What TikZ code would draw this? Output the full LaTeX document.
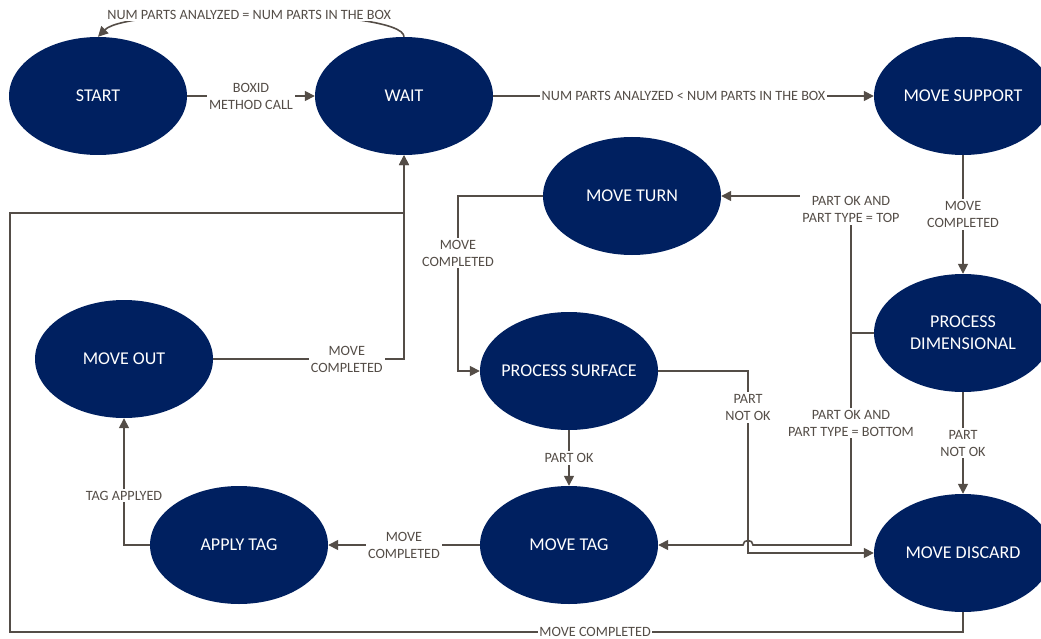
\documentclass[tikz,border=0pt]{standalone}
\usepackage{fontspec}
\setmainfont{Carlito}
\usetikzlibrary{shapes.geometric,arrows.meta}

\definecolor{StateBlue}{RGB}{0,32,96}
\definecolor{EdgeGray}{RGB}{84,77,71}

\tikzset{
  VertexStyle/.style = {ellipse, fill=StateBlue, text=white, align=center,
                        minimum width=178pt, minimum height=118pt,
                        inner sep=0pt, inner xsep=-15pt,
                        font=\fontsize{18}{22}\selectfont},
  EdgeStyle/.style   = {draw=EdgeGray, line width=1.6pt,
                        -{Triangle[length=10pt,width=10pt]}},
  LabelStyle/.style  = {fill=white, text=EdgeGray, align=center, inner sep=2pt,
                        font=\fontsize{14.2}{17}\selectfont}
}

\begin{document}
\begin{tikzpicture}[x=1pt, y=-1pt]
    \useasboundingbox (0,0) rectangle (1041,639);

    % Vertices
    \node[VertexStyle] (start)    at (98,96)   {START};
    \node[VertexStyle] (wait)     at (404,96)  {WAIT};
    \node[VertexStyle] (msupport) at (963,96)  {MOVE SUPPORT};
    \node[VertexStyle] (mturn)    at (632,196) {MOVE TURN};
    \node[VertexStyle] (pdim)     at (963,333) {PROCESS\\DIMENSIONAL};
    \node[VertexStyle] (mout)     at (124,359) {MOVE OUT};
    \node[VertexStyle] (psurf)    at (569,371) {PROCESS SURFACE};
    \node[VertexStyle] (mtag)     at (569,545) {MOVE TAG};
    \node[VertexStyle] (atag)     at (239,545) {APPLY TAG};
    \node[VertexStyle] (mdisc)    at (963,553) {MOVE DISCARD};

    % Junctions
    \coordinate (jdim)  at (851,333);
    \coordinate (jtop)  at (851,196);
    \coordinate (jbot)  at (851,545);
    \coordinate (jsurf) at (748,371);
    \coordinate (jdisc) at (748,553);
    \coordinate (jturn) at (458,196);
    \coordinate (jin)   at (458,371);
    \coordinate (jtag)  at (124,545);
    \coordinate (jout)  at (404,359);
    \coordinate (jdown) at (963,632);
    \coordinate (jlow)  at (10,632);
    \coordinate (jup)   at (10,213);
    \coordinate (jwait) at (404,213);

    % Edges
    \draw[EdgeStyle] (start) -- node[LabelStyle]{BOXID\\METHOD CALL} (wait);
    \draw[EdgeStyle] (wait.north) .. controls (404,8) and (128,6) .. (start.north)
        node[LabelStyle, pos=0.53]{NUM PARTS ANALYZED = NUM PARTS IN THE BOX};
    \draw[EdgeStyle] (wait) -- node[LabelStyle]{NUM PARTS ANALYZED < NUM PARTS IN THE BOX} (msupport);
    \draw[EdgeStyle] (msupport) -- node[LabelStyle]{MOVE\\COMPLETED} (pdim);
    \draw[EdgeStyle] (pdim) -- node[LabelStyle]{PART\\NOT OK} (mdisc);
    \draw[EdgeStyle] (pdim.west) -- (jdim) -- (jtop)
        node[LabelStyle, pos=0.9]{PART OK AND\\PART TYPE = TOP} -- (mturn.east);
    \draw[EdgeStyle] (jdim) -- (jbot)
        node[LabelStyle, pos=0.425]{PART OK AND\\PART TYPE = BOTTOM}
        -- (753,545) .. controls (753,539) and (743,539) .. (743,545) -- (mtag.east);
    \draw[EdgeStyle] (psurf.east) -- (jsurf) -- (jdisc)
        node[LabelStyle, pos=0.2]{PART\\NOT OK} -- (mdisc.west);
    \draw[EdgeStyle] (psurf) -- node[LabelStyle]{PART OK} (mtag);
    \draw[EdgeStyle] (mturn.west) -- (jturn) -- (jin)
        node[LabelStyle, pos=0.326]{MOVE\\COMPLETED} -- (psurf.west);
    \draw[EdgeStyle] (mtag) -- node[LabelStyle]{MOVE\\COMPLETED} (atag);
    \draw[EdgeStyle] (atag.west) -- (jtag) -- (mout.south)
        node[LabelStyle, pos=0.39]{TAG APPLYED};
    \draw[EdgeStyle] (mout.east) -- (jout)
        node[LabelStyle, pos=0.7]{MOVE\\COMPLETED} -- (wait.south);
    \draw[EdgeStyle] (mdisc.south) -- (jdown) -- (jlow)
        node[LabelStyle, pos=0.386, inner sep=1pt]{MOVE COMPLETED}
        -- (jup) -- (jwait) -- (wait.south);

\end{tikzpicture}
\end{document}
